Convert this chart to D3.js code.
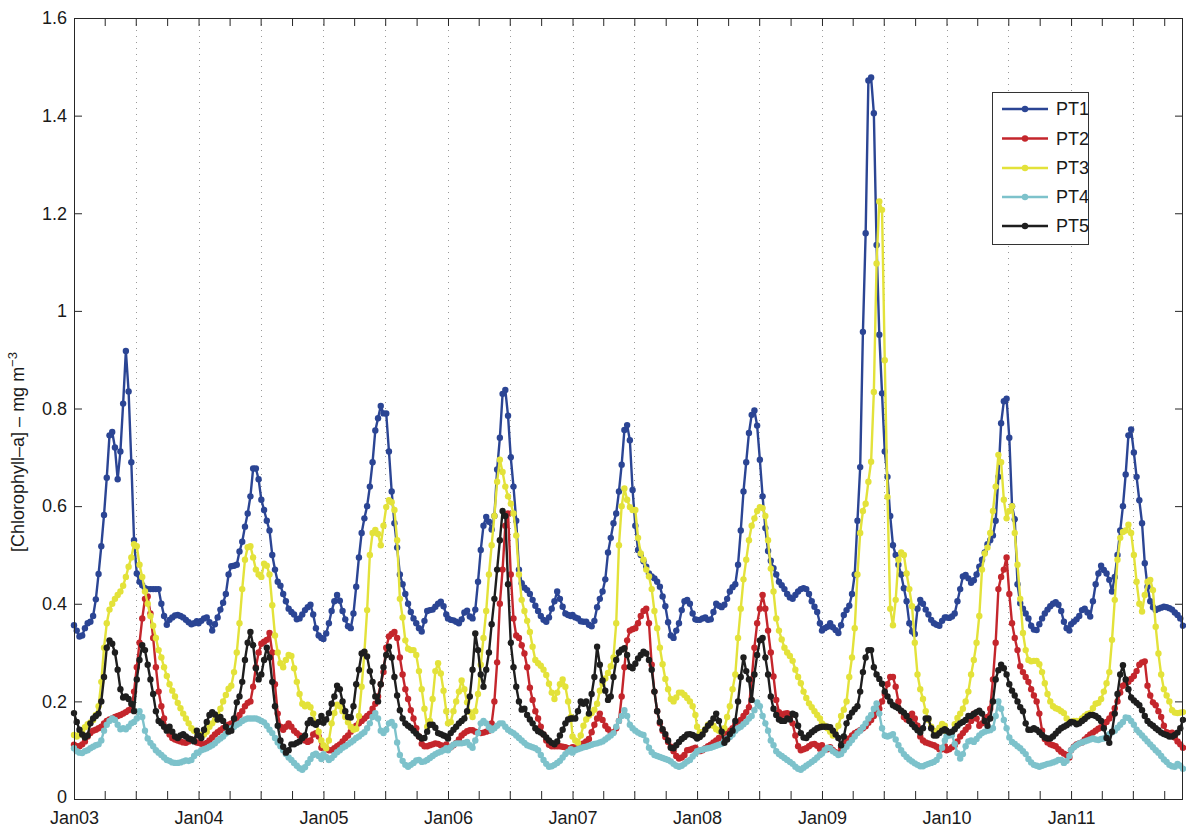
<!DOCTYPE html>
<html>
<head>
<meta charset="utf-8">
<script src="https://cdn.jsdelivr.net/npm/d3@7"></script>
<style>
  html, body { margin: 0; padding: 0; background: #fff; }
  svg { display: block; font-family: "Liberation Sans", Arial, Helvetica, sans-serif; }
</style>
</head>
<body>
<svg id="chart" width="1186" height="828"></svg>
<script>
// ---- data: 8-day composite chlorophyll-a at five stations, one row per year ----
const years = [2003, 2004, 2005, 2006, 2007, 2008, 2009, 2010, 2011];
const seriesNames = ["PT1", "PT2", "PT3", "PT4", "PT5"];
const seriesColors = ["#2b4594", "#c4262c", "#e3e23a", "#7dc2cb", "#1e1e1e"];
const yTickValues = [0, 0.2, 0.4, 0.6, 0.8, 1, 1.2, 1.4, 1.6];
const xLabelFormat = "%b%y";

const pt1 = [
  [0.356,0.345,0.333,0.335,0.35,0.36,0.363,0.375,0.409,0.461,0.518,0.582,0.658,0.745,0.752,0.72,0.655,0.712,0.81,0.918,0.835,0.69,0.53,0.462,0.445,0.438,0.432,0.43,0.43,0.43,0.43,0.43,0.40,0.375,0.357,0.367,0.372,0.376,0.377,0.375,0.372,0.367,0.362,0.358,0.36,0.364],
  [0.36,0.365,0.37,0.372,0.362,0.345,0.358,0.372,0.388,0.402,0.42,0.46,0.477,0.478,0.48,0.507,0.527,0.558,0.585,0.62,0.677,0.677,0.655,0.613,0.592,0.57,0.55,0.5,0.47,0.445,0.437,0.42,0.405,0.39,0.383,0.378,0.368,0.37,0.378,0.387,0.393,0.398,0.378,0.35,0.335,0.33],
  [0.328,0.339,0.36,0.385,0.405,0.418,0.406,0.385,0.368,0.354,0.35,0.38,0.435,0.495,0.545,0.575,0.6,0.64,0.69,0.755,0.78,0.805,0.79,0.79,0.712,0.63,0.565,0.515,0.46,0.44,0.42,0.4,0.383,0.37,0.36,0.35,0.343,0.365,0.385,0.387,0.388,0.394,0.4,0.404,0.395,0.378],
  [0.37,0.367,0.366,0.363,0.36,0.368,0.382,0.386,0.374,0.37,0.388,0.445,0.51,0.56,0.578,0.568,0.552,0.58,0.675,0.74,0.83,0.838,0.785,0.7,0.64,0.57,0.47,0.442,0.433,0.428,0.42,0.408,0.396,0.385,0.375,0.367,0.363,0.372,0.39,0.405,0.425,0.41,0.394,0.38,0.377,0.375],
  [0.377,0.372,0.37,0.364,0.363,0.363,0.357,0.354,0.365,0.393,0.41,0.425,0.45,0.505,0.535,0.565,0.585,0.63,0.685,0.756,0.766,0.735,0.633,0.56,0.51,0.5,0.487,0.476,0.462,0.456,0.452,0.445,0.435,0.415,0.395,0.362,0.335,0.33,0.345,0.36,0.387,0.405,0.408,0.4,0.38,0.368],
  [0.367,0.367,0.37,0.372,0.367,0.368,0.383,0.4,0.396,0.393,0.398,0.41,0.425,0.434,0.44,0.48,0.55,0.63,0.69,0.75,0.787,0.796,0.765,0.695,0.62,0.555,0.508,0.488,0.473,0.46,0.445,0.438,0.43,0.42,0.413,0.41,0.418,0.425,0.43,0.432,0.43,0.42,0.405,0.394,0.383,0.36],
  [0.345,0.35,0.353,0.36,0.352,0.346,0.34,0.356,0.377,0.387,0.396,0.42,0.46,0.57,0.68,0.957,1.159,1.472,1.478,1.405,1.135,0.951,0.831,0.712,0.66,0.58,0.52,0.5,0.48,0.46,0.432,0.405,0.36,0.343,0.338,0.39,0.408,0.4,0.388,0.378,0.367,0.36,0.357,0.355,0.365,0.372],
  [0.372,0.371,0.374,0.38,0.405,0.43,0.456,0.459,0.452,0.443,0.448,0.46,0.476,0.49,0.505,0.522,0.53,0.54,0.57,0.66,0.77,0.815,0.82,0.74,0.6,0.573,0.44,0.401,0.39,0.38,0.37,0.355,0.347,0.346,0.358,0.37,0.38,0.388,0.395,0.4,0.403,0.398,0.385,0.363,0.35,0.345],
  [0.358,0.363,0.368,0.375,0.387,0.39,0.382,0.374,0.405,0.44,0.462,0.478,0.469,0.462,0.449,0.425,0.455,0.5,0.55,0.6,0.665,0.745,0.757,0.71,0.66,0.612,0.565,0.483,0.435,0.405,0.393,0.387,0.39,0.392,0.394,0.393,0.391,0.388,0.382,0.377,0.37,0.355]
];

const pt2 = [
  [0.111,0.108,0.108,0.112,0.118,0.128,0.135,0.14,0.142,0.145,0.148,0.155,0.16,0.163,0.165,0.168,0.17,0.172,0.175,0.178,0.182,0.185,0.22,0.27,0.32,0.37,0.41,0.415,0.38,0.33,0.27,0.22,0.19,0.165,0.142,0.132,0.125,0.122,0.12,0.118,0.116,0.115,0.118,0.122,0.12,0.116],
  [0.115,0.113,0.112,0.115,0.12,0.126,0.132,0.137,0.141,0.145,0.148,0.152,0.155,0.158,0.165,0.172,0.18,0.19,0.197,0.2,0.23,0.27,0.3,0.318,0.322,0.326,0.34,0.3,0.235,0.175,0.148,0.142,0.148,0.155,0.148,0.14,0.135,0.13,0.125,0.12,0.117,0.12,0.132,0.135,0.128,0.105],
  [0.107,0.104,0.1,0.1,0.104,0.108,0.112,0.118,0.125,0.13,0.138,0.145,0.15,0.155,0.16,0.165,0.17,0.175,0.185,0.195,0.21,0.235,0.26,0.31,0.333,0.338,0.342,0.33,0.29,0.255,0.225,0.205,0.182,0.165,0.145,0.128,0.113,0.108,0.108,0.11,0.112,0.114,0.113,0.11,0.108,0.112],
  [0.105,0.106,0.11,0.115,0.122,0.13,0.135,0.139,0.141,0.141,0.138,0.136,0.135,0.136,0.138,0.14,0.155,0.2,0.28,0.4,0.47,0.56,0.585,0.46,0.37,0.335,0.33,0.315,0.298,0.27,0.228,0.203,0.18,0.165,0.148,0.132,0.12,0.111,0.108,0.108,0.108,0.108,0.107,0.106,0.104,0.102],
  [0.106,0.105,0.107,0.11,0.114,0.118,0.123,0.137,0.152,0.165,0.175,0.162,0.15,0.143,0.136,0.137,0.145,0.16,0.21,0.27,0.325,0.345,0.348,0.35,0.36,0.375,0.385,0.39,0.36,0.275,0.22,0.18,0.155,0.14,0.127,0.117,0.107,0.098,0.088,0.083,0.085,0.09,0.1,0.101,0.103,0.105],
  [0.099,0.098,0.1,0.104,0.108,0.111,0.116,0.12,0.125,0.128,0.132,0.136,0.14,0.145,0.152,0.157,0.162,0.17,0.178,0.188,0.245,0.31,0.36,0.39,0.418,0.39,0.345,0.3,0.251,0.203,0.178,0.172,0.175,0.176,0.17,0.155,0.13,0.108,0.1,0.102,0.104,0.108,0.112,0.113,0.109,0.103],
  [0.11,0.104,0.102,0.106,0.1,0.096,0.094,0.105,0.113,0.118,0.124,0.13,0.135,0.138,0.141,0.145,0.149,0.156,0.162,0.17,0.177,0.185,0.2,0.215,0.235,0.25,0.25,0.23,0.2,0.18,0.168,0.163,0.17,0.175,0.165,0.15,0.128,0.12,0.116,0.114,0.112,0.11,0.107,0.102,0.102,0.108],
  [0.1,0.102,0.106,0.11,0.118,0.128,0.135,0.142,0.148,0.16,0.175,0.165,0.15,0.155,0.165,0.168,0.185,0.245,0.32,0.43,0.455,0.47,0.495,0.42,0.36,0.33,0.305,0.272,0.26,0.25,0.24,0.225,0.212,0.2,0.175,0.14,0.123,0.116,0.112,0.11,0.108,0.102,0.097,0.093,0.09,0.085],
  [0.1,0.107,0.112,0.114,0.116,0.122,0.127,0.132,0.136,0.14,0.144,0.147,0.152,0.158,0.165,0.173,0.186,0.2,0.218,0.232,0.237,0.24,0.246,0.252,0.262,0.275,0.28,0.282,0.232,0.212,0.198,0.192,0.18,0.168,0.15,0.137,0.135,0.136,0.126,0.118,0.112,0.105]
];

const pt3 = [
  [0.131,0.128,0.132,0.137,0.147,0.153,0.157,0.162,0.172,0.19,0.24,0.31,0.36,0.388,0.40,0.41,0.418,0.425,0.437,0.455,0.476,0.495,0.522,0.518,0.48,0.455,0.425,0.40,0.375,0.355,0.33,0.305,0.29,0.27,0.252,0.235,0.222,0.21,0.197,0.186,0.175,0.165,0.155,0.145,0.14,0.136],
  [0.133,0.13,0.132,0.138,0.148,0.155,0.162,0.172,0.185,0.2,0.213,0.226,0.232,0.26,0.3,0.36,0.43,0.49,0.516,0.518,0.495,0.47,0.46,0.455,0.482,0.478,0.46,0.397,0.335,0.3,0.278,0.27,0.285,0.295,0.293,0.268,0.24,0.215,0.195,0.19,0.193,0.188,0.175,0.155,0.138,0.12],
  [0.11,0.104,0.12,0.155,0.176,0.193,0.19,0.18,0.168,0.157,0.148,0.142,0.144,0.17,0.23,0.3,0.387,0.5,0.545,0.551,0.543,0.52,0.56,0.598,0.612,0.608,0.592,0.53,0.41,0.372,0.325,0.308,0.305,0.305,0.295,0.262,0.225,0.185,0.148,0.16,0.205,0.262,0.278,0.257,0.222,0.18],
  [0.155,0.158,0.18,0.2,0.22,0.243,0.225,0.198,0.178,0.168,0.18,0.215,0.275,0.33,0.385,0.46,0.52,0.58,0.65,0.695,0.67,0.64,0.62,0.605,0.585,0.54,0.46,0.408,0.385,0.365,0.342,0.312,0.285,0.278,0.273,0.265,0.254,0.236,0.218,0.205,0.218,0.235,0.245,0.23,0.2,0.168],
  [0.128,0.12,0.115,0.13,0.15,0.163,0.171,0.176,0.183,0.195,0.222,0.236,0.247,0.258,0.272,0.29,0.36,0.52,0.6,0.636,0.613,0.598,0.592,0.592,0.535,0.503,0.49,0.47,0.456,0.43,0.385,0.35,0.31,0.276,0.246,0.225,0.205,0.2,0.208,0.218,0.218,0.213,0.207,0.2,0.19,0.172],
  [0.148,0.137,0.137,0.143,0.152,0.155,0.15,0.143,0.14,0.137,0.145,0.168,0.19,0.225,0.255,0.33,0.39,0.45,0.49,0.53,0.56,0.575,0.59,0.598,0.596,0.58,0.53,0.472,0.425,0.37,0.345,0.327,0.31,0.3,0.293,0.283,0.265,0.25,0.237,0.22,0.207,0.196,0.188,0.18,0.172,0.165],
  [0.155,0.15,0.145,0.138,0.13,0.133,0.15,0.17,0.183,0.2,0.25,0.29,0.35,0.46,0.545,0.59,0.605,0.65,0.691,0.834,1.097,1.224,1.207,0.899,0.619,0.39,0.356,0.408,0.49,0.505,0.5,0.462,0.43,0.395,0.32,0.255,0.225,0.205,0.18,0.162,0.148,0.14,0.138,0.146,0.154,0.15],
  [0.138,0.135,0.137,0.153,0.166,0.175,0.185,0.2,0.22,0.255,0.285,0.32,0.375,0.47,0.503,0.515,0.545,0.59,0.64,0.705,0.69,0.613,0.575,0.59,0.6,0.545,0.48,0.41,0.34,0.305,0.285,0.282,0.283,0.283,0.276,0.26,0.237,0.215,0.2,0.19,0.186,0.184,0.18,0.176,0.165,0.158],
  [0.158,0.16,0.16,0.16,0.165,0.17,0.174,0.176,0.186,0.195,0.197,0.205,0.22,0.237,0.26,0.326,0.408,0.49,0.535,0.547,0.55,0.562,0.545,0.5,0.445,0.4,0.384,0.418,0.445,0.449,0.428,0.353,0.298,0.255,0.225,0.212,0.2,0.182,0.177,0.176,0.177,0.178]
];

const pt4 = [
  [0.104,0.098,0.095,0.094,0.098,0.10,0.104,0.107,0.11,0.112,0.12,0.14,0.152,0.16,0.165,0.162,0.152,0.143,0.145,0.143,0.148,0.155,0.158,0.165,0.18,0.168,0.14,0.124,0.115,0.108,0.1,0.095,0.09,0.085,0.08,0.078,0.075,0.074,0.074,0.075,0.077,0.079,0.078,0.08,0.088,0.095],
  [0.095,0.1,0.102,0.104,0.107,0.11,0.114,0.12,0.124,0.128,0.134,0.141,0.145,0.148,0.152,0.155,0.16,0.163,0.165,0.165,0.165,0.165,0.163,0.16,0.157,0.15,0.142,0.135,0.125,0.116,0.108,0.1,0.092,0.085,0.08,0.074,0.068,0.063,0.06,0.065,0.074,0.082,0.09,0.093,0.088,0.082],
  [0.092,0.086,0.08,0.084,0.09,0.096,0.1,0.105,0.108,0.112,0.116,0.12,0.125,0.128,0.133,0.137,0.145,0.155,0.168,0.176,0.165,0.14,0.135,0.142,0.155,0.158,0.15,0.116,0.09,0.078,0.07,0.066,0.07,0.074,0.079,0.08,0.076,0.077,0.08,0.084,0.088,0.092,0.095,0.097,0.1,0.104],
  [0.1,0.106,0.111,0.114,0.114,0.114,0.115,0.117,0.11,0.105,0.12,0.135,0.155,0.16,0.155,0.147,0.141,0.145,0.15,0.155,0.155,0.148,0.142,0.138,0.135,0.13,0.125,0.12,0.115,0.11,0.108,0.106,0.104,0.1,0.09,0.08,0.072,0.066,0.067,0.07,0.074,0.078,0.085,0.092,0.097,0.102],
  [0.095,0.1,0.102,0.104,0.106,0.107,0.109,0.111,0.113,0.114,0.116,0.118,0.122,0.126,0.13,0.135,0.148,0.16,0.17,0.182,0.17,0.152,0.145,0.14,0.136,0.133,0.131,0.12,0.105,0.096,0.09,0.088,0.086,0.084,0.082,0.08,0.077,0.072,0.068,0.066,0.068,0.072,0.077,0.08,0.087,0.093],
  [0.098,0.1,0.101,0.103,0.104,0.105,0.107,0.109,0.111,0.113,0.12,0.124,0.127,0.132,0.14,0.145,0.148,0.153,0.158,0.165,0.17,0.182,0.198,0.19,0.17,0.155,0.14,0.12,0.11,0.098,0.092,0.088,0.084,0.08,0.076,0.072,0.066,0.062,0.06,0.064,0.068,0.072,0.076,0.08,0.085,0.09],
  [0.093,0.1,0.105,0.104,0.098,0.094,0.09,0.092,0.1,0.107,0.114,0.121,0.128,0.135,0.14,0.147,0.155,0.165,0.172,0.185,0.196,0.175,0.145,0.13,0.128,0.13,0.133,0.122,0.11,0.1,0.092,0.086,0.081,0.077,0.073,0.07,0.067,0.067,0.07,0.072,0.074,0.076,0.08,0.088,0.105,0.12],
  [0.128,0.13,0.131,0.113,0.094,0.083,0.092,0.108,0.118,0.12,0.117,0.123,0.13,0.135,0.138,0.14,0.141,0.145,0.17,0.2,0.185,0.162,0.145,0.126,0.117,0.113,0.108,0.104,0.098,0.092,0.082,0.075,0.07,0.068,0.066,0.068,0.07,0.072,0.073,0.075,0.077,0.08,0.08,0.074,0.078,0.088],
  [0.1,0.106,0.11,0.114,0.116,0.118,0.12,0.122,0.124,0.122,0.121,0.123,0.124,0.127,0.133,0.137,0.14,0.146,0.152,0.158,0.167,0.166,0.16,0.152,0.142,0.136,0.13,0.124,0.118,0.112,0.106,0.1,0.095,0.088,0.081,0.076,0.07,0.067,0.066,0.072,0.068,0.062]
];

const pt5 = [
  [0.176,0.158,0.142,0.132,0.126,0.13,0.155,0.165,0.17,0.175,0.2,0.25,0.31,0.325,0.318,0.3,0.265,0.225,0.208,0.21,0.205,0.195,0.18,0.245,0.285,0.315,0.305,0.275,0.245,0.215,0.18,0.16,0.155,0.148,0.14,0.148,0.138,0.128,0.125,0.13,0.133,0.128,0.124,0.122,0.118,0.14],
  [0.13,0.125,0.142,0.158,0.172,0.178,0.173,0.163,0.168,0.16,0.148,0.138,0.14,0.165,0.198,0.21,0.24,0.285,0.32,0.342,0.315,0.268,0.245,0.255,0.285,0.31,0.29,0.24,0.19,0.15,0.12,0.107,0.095,0.1,0.112,0.112,0.115,0.118,0.125,0.13,0.155,0.162,0.155,0.152,0.158,0.17],
  [0.156,0.163,0.176,0.195,0.21,0.232,0.225,0.2,0.18,0.168,0.167,0.19,0.235,0.265,0.298,0.302,0.292,0.262,0.24,0.21,0.2,0.235,0.27,0.295,0.312,0.29,0.25,0.212,0.182,0.165,0.155,0.15,0.146,0.14,0.134,0.128,0.124,0.125,0.138,0.152,0.152,0.146,0.135,0.133,0.13,0.128],
  [0.124,0.135,0.142,0.148,0.155,0.16,0.165,0.18,0.21,0.265,0.339,0.305,0.255,0.23,0.265,0.3,0.358,0.41,0.47,0.53,0.59,0.58,0.44,0.32,0.27,0.23,0.2,0.183,0.185,0.172,0.163,0.155,0.145,0.139,0.136,0.132,0.126,0.12,0.115,0.112,0.118,0.13,0.142,0.155,0.163,0.165],
  [0.165,0.165,0.18,0.2,0.195,0.2,0.175,0.215,0.25,0.312,0.275,0.243,0.222,0.203,0.21,0.25,0.285,0.3,0.306,0.309,0.295,0.271,0.268,0.277,0.288,0.295,0.302,0.298,0.285,0.265,0.22,0.18,0.158,0.143,0.133,0.12,0.105,0.104,0.11,0.117,0.123,0.127,0.132,0.133,0.131,0.128],
  [0.124,0.127,0.132,0.142,0.15,0.156,0.165,0.175,0.16,0.138,0.115,0.122,0.133,0.14,0.16,0.2,0.25,0.29,0.262,0.245,0.203,0.255,0.295,0.325,0.33,0.29,0.255,0.21,0.185,0.172,0.163,0.16,0.16,0.165,0.163,0.175,0.172,0.15,0.135,0.126,0.125,0.131,0.137,0.141,0.145,0.147],
  [0.148,0.148,0.148,0.147,0.14,0.132,0.125,0.11,0.128,0.155,0.168,0.177,0.184,0.19,0.22,0.26,0.29,0.305,0.305,0.27,0.255,0.246,0.236,0.22,0.21,0.2,0.192,0.189,0.186,0.181,0.177,0.17,0.16,0.153,0.147,0.141,0.136,0.145,0.165,0.165,0.145,0.13,0.13,0.135,0.14,0.143],
  [0.14,0.136,0.138,0.143,0.15,0.155,0.158,0.162,0.17,0.17,0.174,0.178,0.181,0.175,0.16,0.15,0.165,0.2,0.245,0.264,0.275,0.268,0.255,0.235,0.222,0.212,0.2,0.188,0.18,0.155,0.142,0.142,0.145,0.142,0.137,0.131,0.126,0.124,0.124,0.128,0.134,0.14,0.145,0.148,0.151,0.155],
  [0.158,0.157,0.153,0.155,0.16,0.164,0.169,0.172,0.172,0.17,0.166,0.16,0.145,0.125,0.115,0.138,0.175,0.215,0.255,0.274,0.245,0.225,0.208,0.202,0.197,0.192,0.182,0.17,0.16,0.154,0.15,0.145,0.141,0.136,0.133,0.131,0.128,0.128,0.131,0.136,0.145,0.162]
];

const seriesValues = [pt1, pt2, pt3, pt4, pt5];

// start date of the i-th 8-day composite of a year (days 1, 9, 17, ...)
function compositeDate(year, i) { return new Date(year, 0, 1 + 8 * i); }

function toPoints(rows) {
  const pts = [];
  rows.forEach((row, yi) => row.forEach((v, i) => pts.push({ date: compositeDate(years[yi], i), value: v })));
  return pts;
}

const series = seriesNames.map((name, si) => ({
  name, color: seriesColors[si], points: toPoints(seriesValues[si])
}));

// ---- layout ----
const plot = { left: 74, right: 1183, top: 18, bottom: 799 };
const FONT = "'Liberation Sans', Arial, Helvetica, sans-serif";

const allDates = series[0].points.map(d => d.date);
const x = d3.scaleTime()
  .domain([allDates[0], allDates[allDates.length - 1]])
  .range([plot.left, plot.right]);
const y = d3.scaleLinear().domain([0, 1.6]).range([plot.bottom, plot.top]);

const svg = d3.select("#chart");

// dotted vertical grid every six months
const gridDates = d3.timeMonth.every(6).range(x.domain()[0], x.domain()[1])
  .filter(d => x(d) > plot.left + 1);
svg.append("g").selectAll("line").data(gridDates).join("line")
  .attr("x1", d => Math.round(x(d)) + 0.5).attr("x2", d => Math.round(x(d)) + 0.5)
  .attr("y1", plot.top).attr("y2", plot.bottom)
  .attr("stroke", "#9a9a9a").attr("stroke-width", 1)
  .attr("stroke-dasharray", "1,5");

// axes: quarterly ticks, labels on January only
const quarterTicks = d3.timeMonth.every(3).range(x.domain()[0], d3.timeDay.offset(x.domain()[1], 1));
const fmt = d3.timeFormat(xLabelFormat);
const tickLen = 8;

const xBottom = d3.axisBottom(x).tickValues(quarterTicks)
  .tickFormat(d => d.getMonth() === 0 ? fmt(d) : "")
  .tickSizeInner(-tickLen).tickSizeOuter(0).tickPadding(12);
const xTop = d3.axisTop(x).tickValues(quarterTicks).tickFormat("")
  .tickSizeInner(-tickLen).tickSizeOuter(0);
const yLeft = d3.axisLeft(y).tickValues(yTickValues).tickFormat(d3.format("~g"))
  .tickSizeInner(-tickLen).tickSizeOuter(0).tickPadding(7);
const yRight = d3.axisRight(y).tickValues(yTickValues).tickFormat("")
  .tickSizeInner(-tickLen).tickSizeOuter(0);

function styleAxis(g) {
  g.select(".domain").remove();
  g.selectAll(".tick line").attr("stroke", "#262626");
  g.selectAll(".tick text").attr("fill", "#1a1a1a").attr("font-size", 18)
    .attr("font-family", FONT);
}

svg.append("g").attr("transform", `translate(0,${plot.bottom})`).call(xBottom).call(styleAxis);
svg.append("g").attr("transform", `translate(0,${plot.top})`).call(xTop).call(styleAxis);
const yAxisG = svg.append("g").attr("transform", `translate(${plot.left},0)`).call(yLeft).call(styleAxis);
svg.append("g").attr("transform", `translate(${plot.right},0)`).call(yRight).call(styleAxis);
// nudge the zero label up a touch so it clears the first date label
yAxisG.selectAll(".tick text").filter(d => d === 0).attr("dy", "0.2em");

// series: lines with a dot on every composite
const line = d3.line().x(d => x(d.date)).y(d => y(d.value));
const marks = svg.append("g");
series.forEach(s => {
  const g = marks.append("g");
  g.append("path").datum(s.points)
    .attr("fill", "none").attr("stroke", s.color)
    .attr("stroke-width", 2.4).attr("stroke-linejoin", "round")
    .attr("d", line);
  g.selectAll("circle").data(s.points).join("circle")
    .attr("cx", d => x(d.date)).attr("cy", d => y(d.value))
    .attr("r", 3.2).attr("fill", s.color);
});

// frame
svg.append("rect")
  .attr("x", plot.left + 0.5).attr("y", plot.top + 0.5)
  .attr("width", plot.right - plot.left - 1).attr("height", plot.bottom - plot.top)
  .attr("fill", "none").attr("stroke", "#262626").attr("stroke-width", 1);

// y-axis title
const yTitle = svg.append("text")
  .attr("transform", `translate(24,452) rotate(-90)`)
  .attr("text-anchor", "middle").attr("font-size", 18).attr("fill", "#1a1a1a")
  .attr("font-family", FONT);
yTitle.append("tspan").text("[Chlorophyll\u2013a] \u2013 mg m");
yTitle.append("tspan").attr("dy", "-0.55em").attr("font-size", 13).text("\u22123");

// legend
const legend = { x: 992, y: 92, w: 96, h: 152, rowY: [109, 138.5, 168, 197, 226] };
const lg = svg.append("g");
lg.append("rect").attr("x", legend.x + 0.5).attr("y", legend.y + 0.5)
  .attr("width", legend.w).attr("height", legend.h)
  .attr("fill", "#fff").attr("stroke", "#333").attr("stroke-width", 1);
series.forEach((s, i) => {
  const yy = legend.rowY[i];
  lg.append("line").attr("x1", 1002).attr("x2", 1048).attr("y1", yy).attr("y2", yy)
    .attr("stroke", s.color).attr("stroke-width", 2.4);
  lg.append("circle").attr("cx", 1025).attr("cy", yy).attr("r", 3.2).attr("fill", s.color);
  lg.append("text").attr("x", 1056).attr("y", yy).attr("dy", "0.36em")
    .attr("font-size", 18).attr("fill", "#1a1a1a").attr("font-family", FONT).text(s.name);
});
</script>
</body>
</html>
